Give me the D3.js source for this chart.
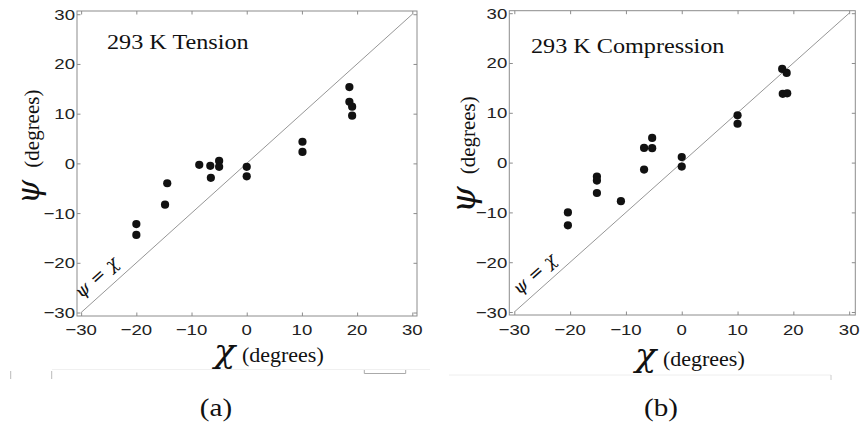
<!DOCTYPE html>
<html>
<head>
<meta charset="utf-8">
<script src="https://cdn.jsdelivr.net/npm/d3@7"></script>
<style>
  html, body { margin: 0; padding: 0; background: #fff; }
  svg { display: block; }
</style>
</head>
<body>
<svg id="chart" width="862" height="432"></svg>
<script>
// ---------------- data ----------------
const tickValues = [-30, -20, -10, 0, 10, 20, 30];
const tickLabels = ["\u221230", "\u221220", "\u221210", "0", "10", "20", "30"];

const tensionChi = [-20, -20, -14.8, -14.4, -8.6, -6.6, -6.5, -5.0, -5.0, 0, 0, 10.1, 10.1, 18.6, 18.6, 19.1, 19.1];
const tensionPsi = [-12.2, -14.4, -8.3, -4.0, -0.3, -0.5, -2.9, 0.5, -0.7, -0.7, -2.6, 4.35, 2.3, 15.35, 12.4, 11.4, 9.6];

const compressionChi = [-20.4, -20.4, -15.2, -15.2, -15.2, -10.9, -6.75, -6.75, -5.3, -5.3, 0, 0, 10.0, 10.0, 18.0, 18.8, 18.1, 18.9];
const compressionPsi = [-10.0, -12.6, -2.8, -3.6, -6.1, -7.75, 2.95, -1.4, 4.96, 2.9, 1.1, -0.8, 9.5, 7.8, 18.8, 18.0, 13.8, 13.9];

const panelTitles = ["293 K Tension", "293 K Compression"];
const panelCaptions = ["(a)", "(b)"];

// ---------------- layout ----------------
const panels = [
  { chi: tensionChi, psi: tensionPsi, title: panelTitles[0], caption: panelCaptions[0],
    box: { x0: 77, x1: 417, y0: 11, y1: 316 }, xDom: [-30.75, 30.85], yDom: [-30.7, 30.65],
    titleX: 107, titleY: 49, yLabX: 39, yLabY: 204, psiSize: 31, capX: 216,
    xLabX: 214, xLabY: 362, diagChi: -25.3, diagOff: 10 },
  { chi: compressionChi, psi: compressionPsi, title: panelTitles[1], caption: panelCaptions[1],
    box: { x0: 509.3, x1: 855.3, y0: 10.7, y1: 315 }, xDom: [-30.9, 31.1], yDom: [-30.6, 30.5],
    titleX: 531, titleY: 53, yLabX: 475, yLabY: 213, psiSize: 34, capX: 661,
    xLabX: 635, xLabY: 366, diagChi: -24.6, diagOff: 9 }
];

const svg = d3.select("#chart");
const SERIF = "'Liberation Serif', 'Times New Roman', serif";
const GREEK = "'DejaVu Serif', 'Liberation Serif', serif";
const SANS = "'Liberation Sans', Arial, Helvetica, sans-serif";
const axisGray = "#8c8c8c";

panels.forEach(p => {
  const x = d3.scaleLinear().domain(p.xDom).range([p.box.x0, p.box.x1]);
  const y = d3.scaleLinear().domain(p.yDom).range([p.box.y1, p.box.y0]);
  const g = svg.append("g");

  // box
  g.append("rect")
    .attr("x", p.box.x0).attr("y", p.box.y0)
    .attr("width", p.box.x1 - p.box.x0).attr("height", p.box.y1 - p.box.y0)
    .attr("fill", "none").attr("stroke", axisGray).attr("stroke-width", 1);

  // axes (inward ticks on all four sides)
  const tk = 3.5;
  const axB = d3.axisBottom(x).tickValues(tickValues).tickSize(-tk).tickFormat("");
  const axT = d3.axisTop(x).tickValues(tickValues).tickSize(-tk).tickFormat("");
  const axL = d3.axisLeft(y).tickValues(tickValues).tickSize(-tk).tickFormat("");
  const axR = d3.axisRight(y).tickValues(tickValues).tickSize(-tk).tickFormat("");
  [[axB, `translate(0,${p.box.y1})`], [axT, `translate(0,${p.box.y0})`],
   [axL, `translate(${p.box.x0},0)`], [axR, `translate(${p.box.x1},0)`]].forEach(([ax, tr]) => {
    const a = g.append("g").attr("transform", tr).call(ax);
    a.select(".domain").remove();
    a.selectAll("line").attr("stroke", axisGray).attr("stroke-width", 1);
  });

  // tick labels
  g.selectAll(".xtl").data(tickValues).join("text")
    .attr("transform", (d) => `translate(${x(d)},335) scale(1.2,1)`)
    .attr("text-anchor", "middle")
    .attr("font-family", SANS).attr("font-size", 15.5).attr("fill", "#222")
    .text((d, i) => tickLabels[i]);
  g.selectAll(".ytl").data(tickValues).join("text")
    .attr("transform", (d) => `translate(${p.box.x0 - 2},${y(d) + 5.5}) scale(1.2,1)`)
    .attr("text-anchor", "end")
    .attr("font-family", SANS).attr("font-size", 15.5).attr("fill", "#222")
    .text((d, i) => tickLabels[i]);

  // diagonal psi = chi
  const line = d3.line().x(d => x(d)).y(d => y(d));
  g.append("path").attr("d", line([-30, 30]))
    .attr("fill", "none").attr("stroke", "#8a8a8a").attr("stroke-width", 0.9);

  // diagonal label
  const ang = Math.atan2(y(0) - y(10), x(10) - x(0)) * 180 / Math.PI;
  const rad = ang * Math.PI / 180;
  const lx = x(p.diagChi) - Math.sin(rad) * p.diagOff;
  const ly = y(p.diagChi) - Math.cos(rad) * p.diagOff;
  g.append("text")
    .attr("transform", `translate(${lx},${ly}) rotate(${-ang})`)
    .attr("text-anchor", "middle")
    .attr("font-family", GREEK).attr("font-size", 18).attr("fill", "#111")
    .html('<tspan font-style="italic">\u03C8</tspan> = <tspan font-style="italic">\u03C7</tspan>');

  // points
  g.selectAll("circle").data(p.chi.map((c, i) => [c, p.psi[i]])).join("circle")
    .attr("cx", d => x(d[0])).attr("cy", d => y(d[1])).attr("r", 4.1)
    .attr("fill", "#111");

  // title
  g.append("text")
    .attr("transform", `translate(${p.titleX},${p.titleY}) scale(1.1,1)`)
    .attr("font-family", SERIF).attr("font-size", 22).attr("fill", "#111")
    .text(p.title);

  // x label
  const xl = g.append("text")
    .attr("transform", `translate(${p.xLabX},${p.xLabY}) scale(1.1,1)`)
    .attr("fill", "#111");
  xl.append("tspan").attr("font-family", GREEK).attr("font-size", 32).attr("font-style", "italic").text("\u03C7");
  xl.append("tspan").attr("font-family", SERIF).attr("font-size", 20).attr("dx", 6).text("(degrees)");

  // y label
  const yl = g.append("text")
    .attr("transform", `translate(${p.yLabX},${p.yLabY}) rotate(-90)`)
    .attr("fill", "#111");
  yl.append("tspan").attr("font-family", GREEK).attr("font-size", p.psiSize).attr("font-style", "italic").text("\u03C8");
  yl.append("tspan").attr("font-family", SERIF).attr("font-size", 21).attr("dx", 12).text("(degrees)");

  // caption
  g.append("text")
    .attr("transform", `translate(${p.capX},416) scale(1.12,1)`)
    .attr("text-anchor", "middle")
    .attr("font-family", SERIF).attr("font-size", 26).attr("fill", "#111")
    .text(p.caption);
});

// faint scan artefacts below the panels
const deco = svg.append("g").attr("fill", "none");
deco.append("path").attr("d", "M10.7,371 V379 M51.7,371 V379").attr("stroke", "#bbb");
deco.append("path").attr("d", "M52,369.5 H430").attr("stroke", "#f0f0f0");
deco.append("path").attr("d", "M364.3,370 V373.5 H405.7 V370").attr("stroke", "#aaa");
deco.append("path").attr("d", "M449,375 H831").attr("stroke", "#eeeeee");
deco.append("path").attr("d", "M831,375 V380").attr("stroke", "#ccc");
</script>
</body>
</html>
